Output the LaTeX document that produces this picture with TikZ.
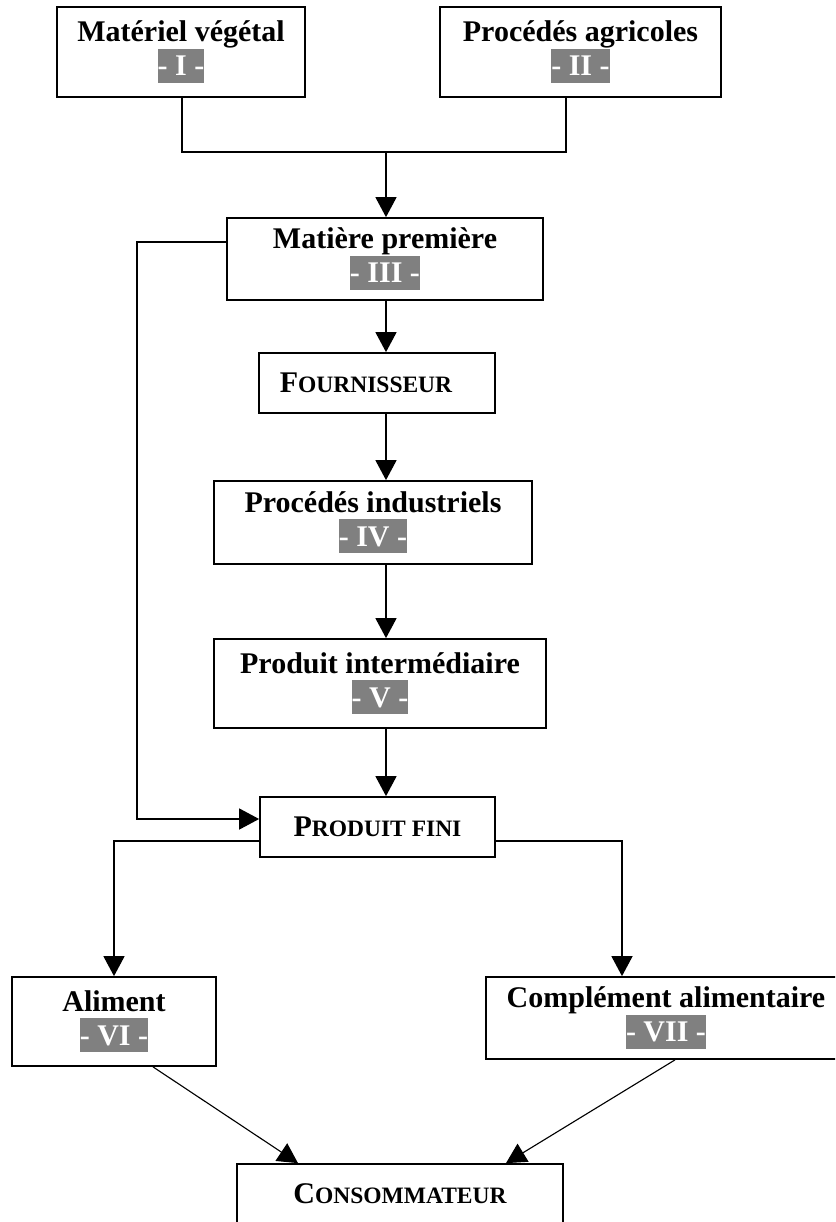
\documentclass[tikz,border=0pt]{standalone}
\usepackage{fontspec}
\setmainfont{Liberation Serif}
\usepackage{xcolor}
\usetikzlibrary{arrows.meta}
\definecolor{labgrey}{RGB}{128,128,128}
\newcommand{\numlab}[1]{{\setlength{\fboxsep}{0pt}\colorbox{labgrey}{\textcolor{white}{\rule[-2.8pt]{0pt}{13.6pt}#1}}}}
\newcommand{\smcap}[2]{#1{\fontsize{9.4}{11}\selectfont #2}}
\tikzset{
  stage/.style 2 args={draw, line width=0.7pt, align=center, inner sep=0pt,
    font=\fontsize{12}{13.6}\selectfont\bfseries,
    minimum width=#1*0.4pt, minimum height=#2*0.4pt},
  link/.style={line width=0.6pt},
  flow/.style={line width=0.6pt, -{Triangle[width=8.4pt,length=8pt]}},
}

\begin{document}
\begin{tikzpicture}[x=0.4pt,y=-0.4pt]
  % page
  \useasboundingbox (0,0) rectangle (835,1222);
  \fill[white] (0,0) rectangle (835,1222);
  \clip (0,0) rectangle (835,1222);

  % origin
  \node[stage={248}{90}] (matv) at (181,52) {Matériel végétal\\\numlab{- I -}};
  \node[stage={281}{90}] (procag) at (580.5,52) {Procédés agricoles\\\numlab{- II -}};

  % chain
  \node[stage={316}{82}] (matp) at (385,259) {Matière première\\\numlab{- III -}};
  \node[stage={236}{60}] (fourn) at (377,383) {\smcap{F}{OURNISSEUR}\hspace*{8.8pt}};
  \node[stage={318}{83}] (procind) at (373,522.5) {Procédés industriels\\\numlab{- IV -}};
  \node[stage={332}{89}] (prodint) at (380,683.5) {Produit intermédiaire\\\numlab{- V -}};
  \node[stage={235}{60}] (pfini) at (377.5,827) {\smcap{P}{RODUIT FINI}};

  % uses
  \node[stage={204}{89}] (aliment) at (114,1021.5) {Aliment\\\numlab{- VI -}};
  \node[stage={360}{82}] (compl) at (666,1018) {Complément alimentaire\\\numlab{- VII -}};
  \node[stage={326}{60}] (conso) at (400,1194) {\smcap{C}{ONSOMMATEUR}};

  % joining I and II
  \coordinate (join) at (386,152);
  \draw[link] ([xshift=0.4pt]matv.south) |- (join) -| ([xshift=-5.8pt]procag.south);
  \draw[flow] (join) -- (matp.north -| join);

  % main line
  \draw[flow] (matp.south -| join) -- (fourn.north -| join);
  \draw[flow] (fourn.south -| join) -- (procind.north -| join);
  \draw[flow] (procind.south -| join) -- (prodint.north -| join);
  \draw[flow] (prodint.south -| join) -- (pfini.north -| join);

  % raw material straight to end product
  \coordinate (bypass) at (137,242);
  \draw[flow] (matp.west |- bypass) -- (bypass) |- ([yshift=3.2pt]pfini.west);

  % split
  \draw[flow] ([yshift=-5.6pt]pfini.west) -| (aliment.north);
  \draw[flow] ([yshift=-5.6pt]pfini.east) -| ([xshift=-17.6pt]compl.north);

  % to consumer
  \draw[flow, line width=0.45pt] ([xshift=15.6pt]aliment.south) -- ([xshift=-40.8pt]conso.north);
  \draw[flow, line width=0.45pt] ([xshift=3.6pt]compl.south) -- ([xshift=42.4pt]conso.north);
\end{tikzpicture}
\end{document}
